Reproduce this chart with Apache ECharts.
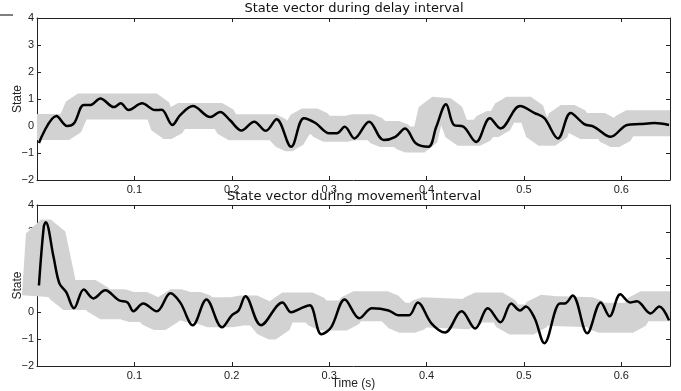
<!DOCTYPE html>
<html>
<head>
  <meta charset="utf-8">
  <title>State vector</title>
  <script src="https://cdn.jsdelivr.net/npm/echarts@6/dist/echarts.min.js"></script>
</head>
<body style="margin:0">
  <div id="main" style="width:681px;height:391px"></div>
  <script type="text/javascript">
    var titles = ['State vector during delay interval', 'State vector during movement interval'];
    var xTicks = [0, 0.65, 0.1];
    var yTicks = [-2, 4, 1];

    // delay interval
    var delayX = [.002, .020, .031, .038, .048, .055, .065, .079, .086, .094, .108, .121, .128, .139, .147, .160, .178, .188, .198, .210,
      .223, .235, .246, .261, .274, .286, .300, .308, .316, .326, .341, .356, .368, .378, .389, .402, .410, .420, .428, .438,
      .451, .465, .476, .496, .511, .521, .535, .548, .562, .572, .589, .606, .619, .634, .649];
    var delayY = [-.63, .37, .0, .1, .78, .78, 1.02, .70, .84, .59, .84, .59, .6, .04, .4, .74, .33, .52, .22, -.17,
      .16, -.18, .25, -.77, .29, .11, -.27, -.27, -.03, -.46, .16, -.52, -.4, -.09, -.64, -.77, -.03, .81, .04, -.03,
      -.59, .29, -.09, .74, .48, .29, -.46, .48, .07, -.03, -.40, .04, .07, .11, .04];
    var delayBandX = [0, .033, .042, .123, .13, .138, .145, .19, .197, .245, .255, .262, .272, .288, .294, .318, .325, .345, .352, .372,
      .378, .398, .405, .424, .432, .455, .462, .474, .482, .507, .515, .532, .538, .552, .558, .583, .589, .598, .605, .65];
    var delayBandY = [-.04, -.04, .72, .72, 0, 0, .37, .37, -.05, -.05, -.45, -.45, .17, .17, -.1, -.1, -.05, -.05, -.3, -.3,
      -.5, -.5, .6, .55, -.25, -.25, .07, .07, .6, .6, -.25, -.25, .3, .3, 0, 0, -.3, -.3, .1, .1];

    // movement interval
    var moveX = [.002, .007, .009, .017, .023, .030, .038, .048, .058, .070, .084, .093, .099, .109, .123, .137, .147, .160, .174, .190,
      .200, .207, .214, .230, .252, .261, .271, .280, .292, .302, .316, .331, .344, .361, .371, .382, .391, .405, .419, .436,
      .450, .463, .476, .487, .496, .502, .511, .521, .537, .542, .550, .565, .579, .588, .599, .609, .616, .630, .639, .649];
    var moveY = [1.0, 3.2, 3.36, 2.06, 1.08, .75, .15, .85, .52, .82, .45, .37, .04, .33, .04, .71, .37, -.48, .48, -.56,
      -.11, .07, .6, -.48, .37, 0, .15, .26, -.82, -.56, .48, -.22, .15, .07, -.11, -.11, .37, -.41, -.75, .04,
      -.6, .15, -.37, .33, .07, .22, -.22, -1.15, .33, .33, .63, -.78, .37, -.15, .67, .37, .41, -.04, .22, -.3];
    var moveBandX = [0, .004, .014, .027, .06, .065, .09, .095, .113, .12, .132, .137, .148, .153, .168, .175, .2, .21, .226, .238,
      .245, .252, .283, .29, .318, .325, .36, .372, .388, .395, .444, .45, .478, .485, .51, .516, .53, .57, .577, .612,
      .62, .65];
    var moveBandY = [.6, 2.9, 2.9, .65, .65, .3, .3, .2, .2, -.1, -.1, .3, .3, .2, .2, 0, 0, .07, .07, -.45,
      -.45, .18, .18, -.12, -.12, .23, .23, -.2, -.2, 0, -.07, .18, .18, -.27, -.27, .1, .05, 0, -.2, -.2,
      .23, .23];

    function zip(xs, ys) {
      return xs.map(function (x, i) { return [x, ys[i]]; });
    }

    var font = 'Liberation Sans';
    var grids = [
      { left: 37, top: 18, width: 633, height: 162, outerBoundsMode: 'none' },
      { left: 37, top: 205, width: 633, height: 161, outerBoundsMode: 'none' }
    ];

    var xAxes = [], yAxes = [];
    grids.forEach(function (g, i) {
      var base = {
        gridIndex: i, type: 'value', min: xTicks[0], max: xTicks[1], interval: xTicks[2],
        axisLine: { onZero: false, lineStyle: { color: '#222', width: 1 } },
        axisTick: { inside: true, length: 4, lineStyle: { color: '#222' } },
        splitLine: { show: false }
      };
      xAxes.push(Object.assign({}, base, {
        position: 'bottom',
        name: i === 1 ? 'Time (s)' : '',
        nameLocation: 'middle', nameGap: 12, nameMoveOverlap: false,
        nameTextStyle: { color: '#222', fontSize: 12, fontFamily: font },
        axisLabel: {
          color: '#222', fontSize: 11, fontFamily: font, margin: 4, showMaxLabel: false,
          formatter: function (v) { return v === 0 ? '' : v.toFixed(1); }
        }
      }));
      xAxes.push(Object.assign({}, base, { position: 'top', axisLabel: { show: false } }));

      var ybase = {
        gridIndex: i, type: 'value', min: yTicks[0], max: yTicks[1], interval: yTicks[2],
        axisLine: { show: true, onZero: false, lineStyle: { color: '#222', width: 1 } },
        axisTick: { inside: true, length: 4, lineStyle: { color: '#222' } },
        splitLine: { show: false }
      };
      yAxes.push(Object.assign({}, ybase, {
        position: 'left',
        name: 'State', nameLocation: 'middle', nameGap: 13, nameRotate: 90, nameMoveOverlap: false,
        nameTextStyle: { color: '#222', fontSize: 12, fontFamily: font },
        axisLabel: {
          color: '#222', fontSize: 11, fontFamily: font, margin: 3,
          formatter: function (v) { return String(v).replace('-', '\u2212'); }
        }
      }));
      yAxes.push(Object.assign({}, ybase, { position: 'right', axisLabel: { show: false } }));
    });

    function band(data, gi, w) {
      return {
        type: 'line', xAxisIndex: gi * 2, yAxisIndex: gi * 2, data: data, symbol: 'none',
        lineStyle: { color: '#d2d2d2', width: w, join: 'bevel', cap: 'butt' }, z: 1, silent: true
      };
    }
    function trace(data, gi) {
      return {
        type: 'line', xAxisIndex: gi * 2, yAxisIndex: gi * 2, data: data, symbol: 'none', smooth: 0.35,
        lineStyle: { color: '#000', width: 2.5 }, z: 2, silent: true
      };
    }

    var titleStyle = { fontSize: 13, fontWeight: 'normal', color: '#111', fontFamily: 'DejaVu Sans' };
    var myChart = echarts.init(document.getElementById('main'));
    var option = {
      backgroundColor: '#fff',
      animation: false,
      title: [
        { text: titles[0], left: 354, top: 2, padding: 0, textAlign: 'center', textStyle: titleStyle },
        { text: titles[1], left: 354, top: 190, padding: 0, textAlign: 'center', textStyle: titleStyle }
      ],
      graphic: [
        { type: 'line', shape: { x1: 0, y1: 15, x2: 13, y2: 15 }, style: { stroke: '#000', lineWidth: 1 } }
      ],
      grid: grids,
      xAxis: xAxes,
      yAxis: yAxes,
      series: [
        band(zip(delayBandX, delayBandY), 0, 26),
        trace(zip(delayX, delayY), 0),
        band(zip(moveBandX, moveBandY), 1, 30),
        trace(zip(moveX, moveY), 1)
      ]
    };
    myChart.setOption(option);
  </script>
</body>
</html>
